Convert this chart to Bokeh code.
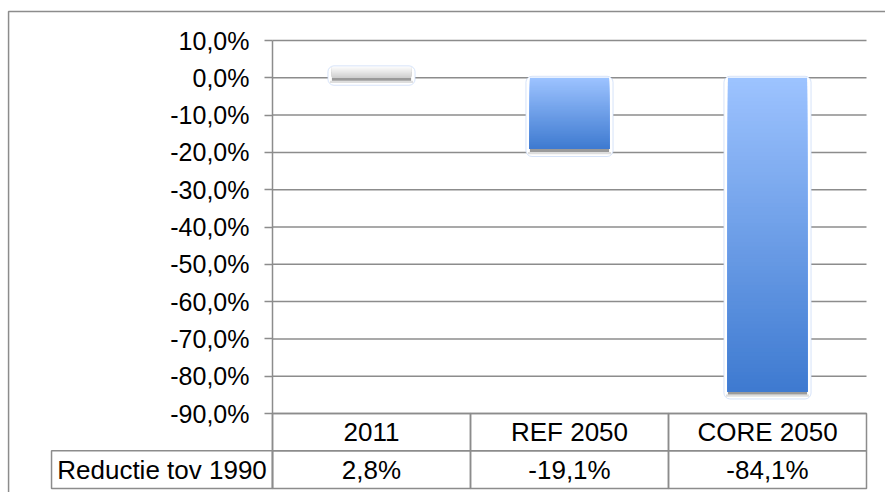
import numpy as np
from bokeh.plotting import figure
from bokeh.models import Range1d, FixedTicker, LinearAxis, ColumnDataSource
from bokeh.core.properties import value
from bokeh.embed import file_html
from bokeh.resources import INLINE

# ---- data ----
categories = ["2011", "REF 2050", "CORE 2050"]
reduction = [2.8, -19.1, -84.1]
value_labels = ["2,8%", "-19,1%", "-84,1%"]
row_title = "Reductie tov 1990"
y_ticks = [10, 0, -10, -20, -30, -40, -50, -60, -70, -80, -90]
y_tick_labels = ["10,0%", "0,0%", "-10,0%", "-20,0%", "-30,0%", "-40,0%",
                 "-50,0%", "-60,0%", "-70,0%", "-80,0%", "-90,0%"]

FONT = "Liberation Sans"
GREY = "#8c8c8c"
BLUE_TOP = np.array([157, 195, 255])
BLUE_BOT = np.array([62, 122, 208])
POS_TOP = np.array([250, 250, 250])
POS_BOT = np.array([205, 205, 205])

W, H = 885, 492
CAT_PX = 198.0          # pixels per category
X0_PX = 272.0           # pixel of x = 0 (plot area left)
PX_PER_PCT = 3.73
Y10_PX = 40.0           # pixel of the 10 % gridline

x_start = -X0_PX / CAT_PX
x_end = (W - X0_PX) / CAT_PX
y_end = 10 + Y10_PX / PX_PER_PCT
y_start = 10 - (H - Y10_PX) / PX_PER_PCT

p = figure(width=W, height=H, output_backend="svg", toolbar_location=None,
           x_range=Range1d(x_start, x_end), y_range=Range1d(y_start, y_end),
           x_axis_location=None, y_axis_location=None,
           min_border=0)
p.outline_line_color = None
p.background_fill_color = "white"
p.border_fill_color = "white"
p.grid.visible = False

row1_top, row1_bot, row2_bot = -90, -100, -110.1
label_left = -1.116

# ---- y axis (real axis, fixed at x = 0) ----
yax = LinearAxis(fixed_location=0, bounds=(row2_bot, 10))
yax.ticker = FixedTicker(ticks=y_ticks)
yax.major_label_overrides = {t: s for t, s in zip(y_ticks, y_tick_labels)}
yax.major_label_text_font = FONT
yax.major_label_text_font_size = "25px"
yax.major_label_text_color = "black"
yax.major_label_standoff = 15
yax.major_tick_out = 8
yax.major_tick_in = 0
yax.minor_tick_out = 0
yax.minor_tick_in = 0
yax.axis_line_color = GREY
yax.axis_line_width = 1.5
yax.major_tick_line_color = GREY
yax.major_tick_line_width = 1.5
p.add_layout(yax, "left")

# gridlines across the plot area only
p.segment(x0=[0] * len(y_ticks), x1=[len(categories)] * len(y_ticks),
          y0=y_ticks, y1=y_ticks, line_color=GREY, line_width=1.5)

# ---- bars with gradient ----
centers = np.arange(len(categories)) + 0.5
half = 0.2
N = 80
L, R, T, B, C = [], [], [], [], []
for c, v in zip(centers, reduction):
    edges = np.linspace(0, v, N + 1)
    for k in range(N):
        a = edges[k]
        t = (k + 0.5) / N
        if v < 0:
            col = BLUE_TOP + (BLUE_BOT - BLUE_TOP) * t
            top, bot = a, v
        else:
            col = POS_BOT + (POS_TOP - POS_BOT) * t
            top, bot = v, a
        L.append(c - half); R.append(c + half)
        T.append(top); B.append(bot)
        C.append("#%02x%02x%02x" % tuple(int(round(x)) for x in col))
grad = ColumnDataSource(dict(left=L, right=R, top=T, bottom=B, color=C))

sh_top = [min(v, 0) for v in reduction]
sh_src = ColumnDataSource(dict(left=centers - half, right=centers + half,
                               top=sh_top, bottom=[s - 0.8 for s in sh_top]))
glow_src = ColumnDataSource(dict(left=centers - half - 0.01, right=centers + half + 0.01,
                                 top=[s - 0.8 for s in sh_top], bottom=[s - 1.4 for s in sh_top]))
out_src = ColumnDataSource(dict(left=centers - half - 0.02, right=centers + half + 0.02,
                                top=[max(v, 0) + 0.4 for v in reduction],
                                bottom=[s - 2.0 for s in sh_top]))

p.quad(left="left", right="right", top="top", bottom="bottom", source=out_src,
       fill_color="white", line_color="#c4d7f7", line_width=1, line_alpha=0.7,
       border_radius=6)
p.quad(left="left", right="right", top="top", bottom="bottom", source=glow_src,
       fill_color="#c8c8c8", fill_alpha=0.6, line_color=None)
p.quad(left="left", right="right", top="top", bottom="bottom", source=sh_src,
       fill_color="#9a9a9a", line_color=None)
p.quad(left="left", right="right", top="top", bottom="bottom", source=grad,
       fill_color="color", line_color=None)

# ---- data table below ----
n = len(categories)
p.quad(left=list(range(n)) * 2, right=[i + 1 for i in range(n)] * 2,
       top=[row1_top] * n + [row1_bot] * n, bottom=[row1_bot] * n + [row2_bot] * n,
       fill_color=None, line_color=GREY, line_width=1.5)
p.quad(left=[label_left], right=[0], top=[row1_bot], bottom=[row2_bot],
       fill_color=None, line_color=GREY, line_width=1.5)

p.text(x=centers, y=[(row1_top + row1_bot) / 2] * n, text=categories,
       text_font=value(FONT), text_font_size="26px", text_align="center",
       text_baseline="middle", text_color="black")
p.text(x=centers, y=[(row1_bot + row2_bot) / 2] * n, text=value_labels,
       text_font=value(FONT), text_font_size="26px", text_align="center",
       text_baseline="middle", text_color="black")
p.text(x=[label_left / 2], y=[(row1_bot + row2_bot) / 2], text=[row_title],
       text_font=value(FONT), text_font_size="26px", text_align="center",
       text_baseline="middle", text_color="black")

# ---- outer chart border ----
p.quad(left=[-1.333], right=[x_end + 1], top=[17.77], bottom=[y_start - 5],
       fill_color=None, line_color=GREY, line_width=1.5)

open("out.html", "w").write(file_html(p, INLINE))
